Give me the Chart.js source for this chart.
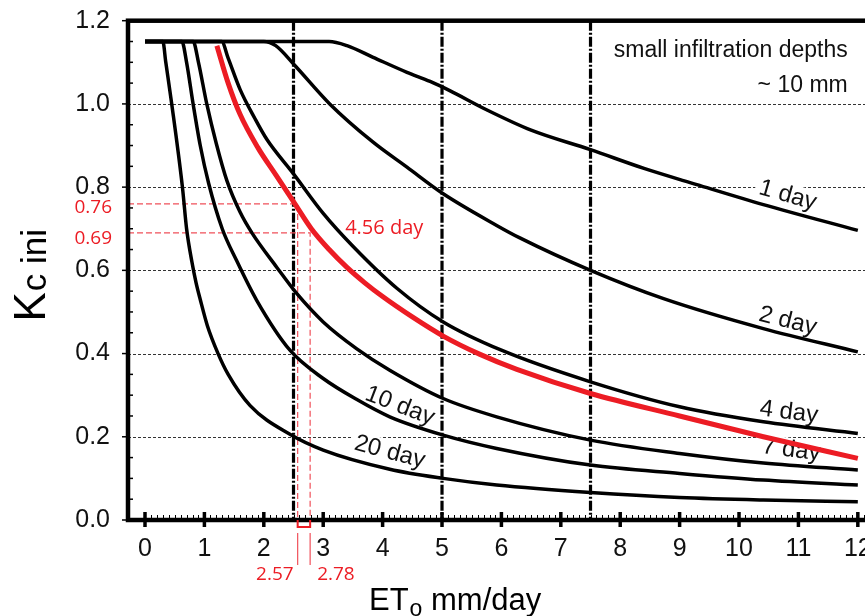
<!DOCTYPE html>
<html><head><meta charset="utf-8">
<script src="https://cdn.jsdelivr.net/npm/chart.js@4.4.1/dist/chart.umd.min.js"></script>
<style>
html,body{margin:0;padding:0;background:#fff;overflow:hidden;width:865px;height:616px}
#wrap{position:absolute;left:0;top:0;width:880px;height:616px}
</style>
</head><body><div id="wrap"><canvas id="c"></canvas></div>
<script>
// ---- data (ETo mm/day -> Kc ini) ----
const etDay1 = [0, 3.1, 3.4, 3.84, 4.41, 4.8, 5.13, 5.75, 6.5, 7.5, 8.4, 9.29, 10.41, 12];
const kcDay1 = [1.15, 1.15, 1.14, 1.112, 1.076, 1.054, 1.032, 0.986, 0.937, 0.89, 0.845, 0.806, 0.758, 0.696];
const etDay2 = [0, 2.0, 2.2, 2.5, 3.11, 3.84, 4.41, 5.02, 5.92, 6.31, 7.5, 8.73, 10.41, 12];
const kcDay2 = [1.15, 1.15, 1.14, 1.096, 1.0, 0.908, 0.848, 0.784, 0.708, 0.678, 0.60, 0.532, 0.46, 0.404];
const etDay4 = [0, 1.29, 1.4, 1.6, 1.85, 2.05, 2.5, 3.0, 3.5, 4.24, 5.02, 6.0, 7.5, 9, 10.41, 12];
const kcDay4 = [1.15, 1.15, 1.11, 1.035, 0.965, 0.915, 0.832, 0.737, 0.658, 0.557, 0.476, 0.408, 0.332, 0.272, 0.236, 0.208];
const etDay7 = [0, 0.81, 0.9, 1.04, 1.2, 1.38, 1.6, 1.8, 2.22, 2.55, 3.0, 3.56, 4.12, 5.02, 5.92, 7.5, 9, 10.41, 12];
const kcDay7 = [1.15, 1.15, 1.1, 1.0, 0.905, 0.815, 0.74, 0.69, 0.607, 0.545, 0.476, 0.412, 0.36, 0.292, 0.248, 0.192, 0.16, 0.137, 0.12];
const etDay10 = [0, 0.62, 0.7, 0.81, 0.93, 1.07, 1.3, 1.54, 1.88, 2.44, 3.0, 3.56, 4.12, 5.02, 5.92, 7.5, 9, 10.41, 12];
const kcDay10 = [1.15, 1.15, 1.1, 1.0, 0.9, 0.81, 0.7, 0.624, 0.528, 0.408, 0.34, 0.29, 0.248, 0.204, 0.172, 0.132, 0.112, 0.096, 0.084];
const etDay20 = [0, 0.3, 0.35, 0.45, 0.63, 0.7, 0.79, 0.86, 0.93, 1.05, 1.23, 1.4, 1.77, 2.44, 3.0, 4.12, 5.02, 5.92, 7.5, 9, 10.41, 12];
const kcDay20 = [1.15, 1.15, 1.1, 1.0, 0.8, 0.7, 0.62, 0.57, 0.53, 0.467, 0.4, 0.35, 0.275, 0.206, 0.168, 0.122, 0.10, 0.084, 0.066, 0.054, 0.048, 0.044];
const etRed = [1.21, 1.4, 1.6, 1.9, 2.2, 2.5, 2.8, 3.1, 3.4, 3.7, 4.0, 4.5, 5.02, 5.64, 6.26, 7.5, 9, 10.41, 12];
const kcRed = [1.14, 1.05, 0.975, 0.895, 0.83, 0.765, 0.70, 0.65, 0.607, 0.57, 0.537, 0.488, 0.442, 0.398, 0.362, 0.304, 0.25, 0.20, 0.148];

const seriesNames = ['1 day', '2 day', '4 day', '7 day', '10 day', '20 day', '4.56 day'];
const xTickValues = [0,1,2,3,4,5,6,7,8,9,10,11,12];
const yTickValues = [0, 0.2, 0.4, 0.6, 0.8, 1.0, 1.2];
const refLinesX = [2.5, 5, 7.5];
const readKc = [0.76, 0.69];
const readEt = [2.57, 2.78];
const noteLines = ['small infiltration depths', '~ 10 mm'];

// ---- styling / layout (kept separate from data) ----
const FONT = '"Liberation Sans", Arial, sans-serif';
const RED = '#ec1c24';
const RED_LIGHT = '#f0505a';
const labelPlace = { // anchors (data space) and rotation for curve labels
  '1 day': [10.82, 0.78, 16], '2 day': [10.82, 0.478, 14], '4 day': [10.84, 0.259, 7],
  '7 day': [10.88, 0.168, 7], '10 day': [4.29, 0.274, 21], '20 day': [4.12, 0.163, 15]
};

function pts(xs, ys){ return xs.map((x,i)=>({x:x, y:ys[i]})); }
const seriesData = [pts(etDay1,kcDay1), pts(etDay2,kcDay2), pts(etDay4,kcDay4), pts(etDay7,kcDay7),
  pts(etDay10,kcDay10), pts(etDay20,kcDay20), pts(etRed,kcRed)];

const datasets = seriesData.map((d,i)=>({
  label: seriesNames[i], data: d, showLine: true, pointRadius: 0,
  borderColor: i===6 ? RED : '#000', borderWidth: i===6 ? 5 : 3.5,
  cubicInterpolationMode: 'monotone', fill: false, order: i===6 ? 0 : 1
}));

const deco = {
  id: 'deco',
  beforeDatasetsDraw(chart){
    const ctx = chart.ctx, xs = chart.scales.x, ys = chart.scales.y, a = chart.chartArea;
    ctx.save();
    ctx.strokeStyle = '#333'; ctx.lineWidth = 1; ctx.setLineDash([3,2]);
    yTickValues.forEach(v=>{
      if (v<=0 || v>=1.2) return;
      const y = Math.round(ys.getPixelForValue(v))+0.5;
      ctx.beginPath(); ctx.moveTo(a.left, y); ctx.lineTo(a.right, y); ctx.stroke();
    });
    ctx.setLineDash([]);
    ctx.font = '24px ' + FONT; ctx.textAlign = 'center'; ctx.textBaseline = 'middle';
    Object.keys(labelPlace).forEach(k=>{
      const [lx, ly, ang] = labelPlace[k];
      const px = xs.getPixelForValue(lx), py = ys.getPixelForValue(ly);
      ctx.save(); ctx.translate(px, py); ctx.rotate(ang*Math.PI/180);
      const w = ctx.measureText(k).width;
      ctx.fillStyle = '#fff'; ctx.fillRect(-w/2-4, -12, w+8, 22);
      ctx.fillStyle = '#111'; ctx.fillText(k, 0, 0);
      ctx.restore();
    });
    ctx.strokeStyle = '#000'; ctx.lineWidth = 3.2; ctx.setLineDash([10,2,2,2]);
    refLinesX.forEach(v=>{
      const x = xs.getPixelForValue(v);
      ctx.beginPath(); ctx.moveTo(x, a.top); ctx.lineTo(x, a.bottom); ctx.stroke();
    });
    ctx.strokeStyle = RED_LIGHT; ctx.lineWidth = 1.2; ctx.setLineDash([6,3]);
    readKc.forEach((kv,i)=>{
      const y = ys.getPixelForValue(kv), x = xs.getPixelForValue(readEt[i]);
      ctx.beginPath(); ctx.moveTo(a.left, y); ctx.lineTo(x, y); ctx.lineTo(x, a.bottom); ctx.stroke();
    });
    ctx.setLineDash([]);
    ctx.restore();
  },
  afterDatasetsDraw(chart){
    const ctx = chart.ctx, xs = chart.scales.x, ys = chart.scales.y, a = chart.chartArea;
    ctx.save();
    ctx.strokeStyle = '#000'; ctx.lineWidth = 4.5;
    ctx.strokeRect(a.left, a.top, a.right-a.left, a.bottom-a.top);
    ctx.lineWidth = 1.5;
    for (let i=0; i<=24; i++){
      const v = i*0.05, y = ys.getPixelForValue(v);
      ctx.beginPath();
      if (i%4===0){ ctx.moveTo(a.left-6, y); ctx.lineTo(a.left, y); }
      else { ctx.moveTo(a.left, y); ctx.lineTo(a.left+5, y); }
      ctx.stroke();
    }
    xTickValues.forEach(v=>{
      const x = xs.getPixelForValue(v);
      ctx.lineWidth = 3.5; ctx.beginPath(); ctx.moveTo(x, a.bottom-8); ctx.lineTo(x, a.bottom+7); ctx.stroke();
    });
    ctx.lineWidth = 1;
    for (let i=1; i<123; i++){
      if (i%10===0) continue;
      const x = Math.round(xs.getPixelForValue(i/10))+0.5;
      ctx.beginPath(); ctx.moveTo(x, a.bottom-5); ctx.lineTo(x, a.bottom); ctx.stroke();
    }
    ctx.strokeStyle = RED; ctx.lineWidth = 2;
    const x1 = xs.getPixelForValue(readEt[0]), x2 = xs.getPixelForValue(readEt[1]);
    ctx.beginPath(); ctx.moveTo(x1, a.bottom); ctx.lineTo(x1, a.bottom+7); ctx.lineTo(x2, a.bottom+7); ctx.lineTo(x2, a.bottom); ctx.stroke();
    ctx.lineWidth = 1.2; ctx.strokeStyle = RED_LIGHT;
    [x1,x2].forEach(x=>{ ctx.beginPath(); ctx.moveTo(x, a.bottom+13); ctx.lineTo(x, a.bottom+45); ctx.stroke(); });
    ctx.fillStyle = RED; ctx.font = '19px "Open Sans", sans-serif'; ctx.textBaseline = 'middle';
    ctx.textAlign = 'right';
    ctx.fillText(readEt[0].toFixed(2), x1-4, a.bottom+55);
    ctx.fillText(readKc[0].toFixed(2), a.left-16, ys.getPixelForValue(readKc[0])+4);
    ctx.fillText(readKc[1].toFixed(2), a.left-16, ys.getPixelForValue(readKc[1])+6);
    ctx.textAlign = 'left';
    ctx.fillText(readEt[1].toFixed(2), x2+7, a.bottom+55);
    ctx.font = '20px "Open Sans", sans-serif';
    ctx.fillText(seriesNames[6], xs.getPixelForValue(3.37), ys.getPixelForValue(0.70));
    ctx.fillStyle = '#111'; ctx.font = '23px ' + FONT; ctx.textAlign = 'right'; ctx.textBaseline = 'alphabetic';
    const nx = xs.getPixelForValue(11.83);
    ctx.fillText(noteLines[0], nx, a.top+36);
    ctx.fillText(noteLines[1], nx, a.top+71);
    ctx.textAlign = 'left'; ctx.fillStyle = '#000';
    let tx = 369;
    ctx.font = '31px ' + FONT; ctx.fillText('ET', tx, 609.5); tx += ctx.measureText('ET').width + 1;
    ctx.font = '23px ' + FONT; ctx.fillText('o', tx, 616); tx += ctx.measureText('o').width;
    ctx.font = '31px ' + FONT; ctx.fillText(' mm/day', tx, 609.5);
    ctx.save(); ctx.translate(45, 321.5); ctx.rotate(-Math.PI/2);
    ctx.font = '44px ' + FONT; ctx.fillText('K', 0, 0);
    const kw = ctx.measureText('K').width;
    ctx.font = '35px ' + FONT; ctx.fillText('c ini', kw + 1, 1);
    ctx.restore();
    ctx.restore();
  }
};

new Chart(document.getElementById('c'), {
  type: 'scatter',
  data: { datasets: datasets },
  options: {
    responsive: true, maintainAspectRatio: false, animation: false, devicePixelRatio: 1,
    layout: { padding: { top: 20.7, left: 0, right: 4, bottom: 0 } },
    plugins: { legend: { display: false }, tooltip: { enabled: false } },
    scales: {
      x: {
        type: 'linear', min: -0.2862, max: 12.306,
        afterBuildTicks: s => { s.ticks = xTickValues.map(v=>({value:v})); },
        afterFit: s => { s.height = 96; s.paddingLeft = 0; s.paddingRight = 0; },
        grid: { display: false, drawTicks: false }, border: { display: false },
        ticks: { padding: 14, color: '#111', font: { family: FONT, size: 25 }, callback: v => String(v) }
      },
      y: {
        type: 'linear', min: 0, max: 1.2,
        afterBuildTicks: s => { s.ticks = yTickValues.map(v=>({value:v})); },
        afterFit: s => { s.width = 128; s.paddingTop = 0; s.paddingBottom = 0; },
        grid: { display: false, drawTicks: false }, border: { display: false },
        ticks: { padding: 18, color: '#111', font: { family: FONT, size: 25 }, callback: v => Number(v).toFixed(1) }
      }
    }
  },
  plugins: [deco]
});
</script>
</body></html>
